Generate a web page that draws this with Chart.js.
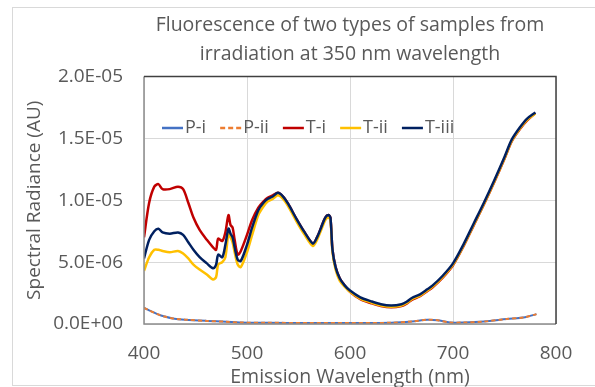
<!DOCTYPE html>
<html>
<head>
<meta charset="utf-8">
<script src="https://cdn.jsdelivr.net/npm/chart.js@4.4.1/dist/chart.umd.min.js"></script>
<style>
    html, body { margin: 0; padding: 0; background: #fff; }
    #wrap { width: 595px; height: 387px; position: relative; }
</style>
</head>
<body>
<div id="wrap"><canvas id="fluoChart"></canvas></div>
<script>
// --- dados (radiância em unidades de 1E-06) ---
const UNIT = 1e-6;

const tWavelength = [400, 405, 410, 414, 418, 425, 433, 438, 443, 448, 454, 461, 467, 470, 472, 476, 479, 482, 484, 486,
    488, 491, 494, 500, 505, 511, 516, 520, 525, 530, 535, 540, 548, 556, 564, 568, 572, 576, 579, 581,
    583, 586, 590, 595, 600, 610, 620, 630, 640, 650, 655, 660, 668, 675, 680, 690, 700, 710, 720, 730,
    740, 750, 757, 765, 772, 780];

const tI = [7.0, 9.8, 11.1, 11.3, 10.9, 10.9, 11.1, 10.9, 9.8, 8.6, 7.6, 6.8, 6.2, 6.0, 6.9, 6.7, 7.4, 8.8, 8.0, 7.8,
    6.8, 5.6, 5.9, 7.2, 8.4, 9.4, 9.9, 10.2, 10.4, 10.6, 10.3, 9.7, 8.5, 7.4, 6.5, 7.0, 7.8, 8.6, 8.8, 8.6,
    6.0, 4.6, 3.7, 3.1, 2.6, 2.0, 1.7, 1.45, 1.35, 1.45, 1.65, 1.95, 2.25, 2.65, 2.95, 3.75, 4.75, 6.25, 7.95, 9.65,
    11.45, 13.35, 14.75, 15.75, 16.45, 17.05];

const tII = [4.3, 5.4, 6.0, 6.0, 5.9, 5.8, 5.9, 5.7, 5.3, 4.8, 4.4, 4.0, 3.6, 3.8, 4.8, 5.0, 5.4, 7.3, 7.0, 6.6,
    5.8, 4.8, 4.6, 5.8, 7.2, 8.8, 9.5, 9.9, 10.1, 10.4, 10.1, 9.5, 8.3, 7.2, 6.3, 6.8, 7.6, 8.4, 8.6, 8.4,
    5.8, 4.4, 3.5, 3.0, 2.6, 2.05, 1.75, 1.5, 1.4, 1.5, 1.7, 2.0, 2.3, 2.7, 3.0, 3.8, 4.8, 6.3, 8.0, 9.7,
    11.5, 13.4, 14.8, 15.8, 16.5, 17.0];

const tIII = [5.3, 6.8, 7.5, 7.7, 7.4, 7.3, 7.4, 7.2, 6.6, 6.0, 5.4, 4.9, 4.5, 4.8, 5.6, 5.4, 6.4, 7.7, 7.3, 7.0,
    6.2, 5.2, 5.1, 6.4, 7.8, 9.2, 9.8, 10.1, 10.3, 10.6, 10.3, 9.7, 8.5, 7.4, 6.5, 7.0, 7.8, 8.6, 8.8, 8.6,
    6.0, 4.6, 3.7, 3.1, 2.7, 2.15, 1.85, 1.6, 1.5, 1.6, 1.8, 2.1, 2.4, 2.8, 3.1, 3.9, 4.9, 6.4, 8.1, 9.8,
    11.6, 13.5, 14.9, 15.9, 16.6, 17.1];

const pWavelength = [400, 405, 413, 420, 428, 440, 461, 480, 493, 520, 560, 600, 640, 660, 675, 685, 697, 710, 730, 752, 770, 781];
const pI  = [1.3, 1.1, 0.8, 0.6, 0.45, 0.35, 0.25, 0.18, 0.12, 0.1, 0.08, 0.08, 0.1, 0.2, 0.35, 0.3, 0.12, 0.12, 0.2, 0.4, 0.55, 0.8];
const pII = [1.3, 1.1, 0.8, 0.6, 0.45, 0.35, 0.25, 0.18, 0.12, 0.1, 0.08, 0.08, 0.1, 0.2, 0.35, 0.3, 0.12, 0.12, 0.2, 0.4, 0.55, 0.8];

const xTicks = [400, 500, 600, 700, 800];
const yTicks = [0, 5e-6, 1e-5, 1.5e-5, 2e-5];

const titleLines = ['Fluorescence of two types of samples from', 'irradiation at 350 nm wavelength'];
const xTitle = 'Emission Wavelength (nm)';
const yTitle = 'Spectral Radiance (AU)';

const FONT = "'Open Sans', 'Noto Sans', sans-serif";
const TEXT_COLOR = '#595959';

const toPoints = (xs, ys) => xs.map((x, i) => ({ x: x, y: ys[i] * UNIT }));

// formato estilo Excel: 2.0E-05
const sciLabel = (v) => {
    if (v === 0) return '0.0E+00';
    const e = Math.floor(Math.log10(Math.abs(v)) + 1e-9);
    const m = v / Math.pow(10, e);
    return m.toFixed(1) + 'E' + (e < 0 ? '-' : '+') + String(Math.abs(e)).padStart(2, '0');
};

const series = [
    { label: 'P-i',   data: toPoints(pWavelength, pI),   color: '#4472C4', width: 2,   dash: [],     order: 4 },
    { label: 'P-ii',  data: toPoints(pWavelength, pII),  color: '#ED7D31', width: 2,   dash: [4, 3], order: 3 },
    { label: 'T-i',   data: toPoints(tWavelength, tI),   color: '#C00000', width: 2.5, dash: [],     order: 2 },
    { label: 'T-ii',  data: toPoints(tWavelength, tII),  color: '#FFC000', width: 2.5, dash: [],     order: 1 },
    { label: 'T-iii', data: toPoints(tWavelength, tIII), color: '#002060', width: 2.5, dash: [],     order: 0 }
];

// moldura externa + borda da área do gráfico + legenda dentro do gráfico
const framePlugin = {
    id: 'frame',
    beforeDraw(chart) {
        const ctx = chart.ctx;
        ctx.save();
        ctx.strokeStyle = '#d9d9d9';
        ctx.lineWidth = 1;
        ctx.strokeRect(12.5, 7.5, 620, 378);
        ctx.restore();
    },
    afterDraw(chart) {
        const { ctx, chartArea: a } = chart;
        ctx.save();
        ctx.lineWidth = 1.5;
        ctx.strokeStyle = '#8c8c8c';
        ctx.beginPath();
        ctx.moveTo(a.left, a.top);
        ctx.lineTo(a.left, a.bottom);
        ctx.lineTo(a.right, a.bottom);
        ctx.stroke();
        ctx.strokeStyle = '#404040';
        ctx.beginPath();
        ctx.moveTo(a.left, a.top);
        ctx.lineTo(a.right, a.top);
        ctx.lineTo(a.right, a.bottom);
        ctx.stroke();

        // legenda
        ctx.font = '18px ' + FONT;
        ctx.textBaseline = 'middle';
        ctx.fillStyle = TEXT_COLOR;
        let x = 162;
        const y = 128;
        series.forEach(s => {
            ctx.strokeStyle = s.color;
            ctx.lineWidth = 2.5;
            ctx.setLineDash(s.dash.length ? [5, 3] : []);
            ctx.beginPath();
            ctx.moveTo(x, y);
            ctx.lineTo(x + 21, y);
            ctx.stroke();
            ctx.setLineDash([]);
            ctx.fillText(s.label, x + 23, y);
            x += 23 + ctx.measureText(s.label).width + 14;
        });
        ctx.restore();
    }
};

const ctx = document.getElementById('fluoChart');

new Chart(ctx, {
    type: 'line',
    data: {
        datasets: series.map(s => ({
            label: s.label,
            data: s.data,
            borderColor: s.color,
            backgroundColor: s.color,
            borderWidth: s.width,
            borderDash: s.dash,
            pointRadius: 0,
            tension: 0.3,
            fill: false,
            order: s.order
        }))
    },
    options: {
        responsive: true,
        maintainAspectRatio: false,
        animation: false,
        layout: {
            padding: { left: 0, right: 39, top: 0, bottom: 0 }
        },
        scales: {
            x: {
                type: 'linear',
                min: 400,
                max: 800,
                afterBuildTicks: (scale) => { scale.ticks = xTicks.map(v => ({ value: v })); },
                afterFit: (scale) => { scale.height = 63; },
                grid: {
                    color: '#d9d9d9',
                    drawTicks: false
                },
                border: { display: false },
                ticks: {
                    color: TEXT_COLOR,
                    padding: 18,
                    maxRotation: 0,
                    font: { family: FONT, size: 19 }
                },
                title: {
                    display: true,
                    text: xTitle,
                    color: TEXT_COLOR,
                    padding: { top: 0, bottom: 0 },
                    font: { family: FONT, size: 19.5, lineHeight: 1.0 }
                }
            },
            y: {
                min: 0,
                max: 2e-5,
                afterBuildTicks: (scale) => { scale.ticks = yTicks.map(v => ({ value: v })); },
                afterFit: (scale) => { scale.width = 144; },
                grid: {
                    color: '#d9d9d9',
                    drawTicks: false
                },
                border: { display: false },
                ticks: {
                    color: TEXT_COLOR,
                    padding: 21,
                    font: { family: FONT, size: 19 },
                    callback: (v) => sciLabel(v)
                },
                title: {
                    display: true,
                    text: yTitle,
                    color: TEXT_COLOR,
                    padding: { top: 23, bottom: 0 },
                    font: { family: FONT, size: 19 }
                }
            }
        },
        plugins: {
            legend: { display: false },
            tooltip: { enabled: false },
            title: {
                display: true,
                text: titleLines,
                fullSize: false,
                color: TEXT_COLOR,
                font: { family: FONT, size: 19.5, weight: 'normal', lineHeight: 1.5 },
                padding: { top: 11, bottom: 7 }
            }
        }
    },
    plugins: [framePlugin]
});
</script>
</body>
</html>
